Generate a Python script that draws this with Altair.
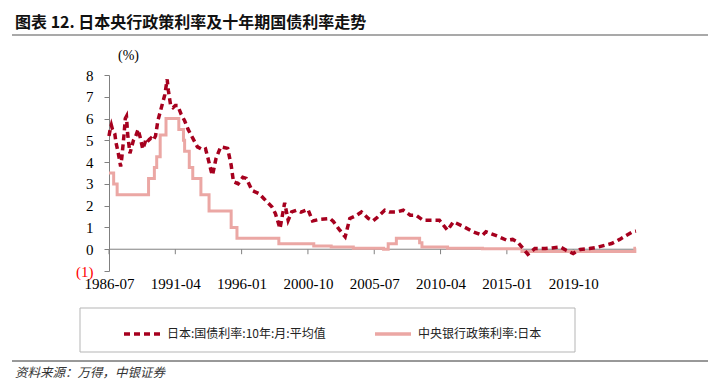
import altair as alt
import pandas as pd

START_YEAR, START_MONTH = 1986, 7

S_JGB = "日本:国债利率:10年:月:平均值"
S_POL = "中央银行政策利率:日本"

jgb_dates = [
    "1986-07", "1986-08", "1986-09", "1986-10", "1986-12", "1987-01", "1987-03", "1987-05",
    "1987-06", "1987-08", "1987-09", "1987-10", "1987-11", "1988-01", "1988-02", "1988-04",
    "1988-06", "1988-08", "1988-10", "1988-12", "1989-02", "1989-03", "1989-05", "1989-07",
    "1989-09", "1989-11", "1990-01", "1990-03", "1990-05", "1990-07", "1990-09", "1990-10",
    "1990-12", "1991-02", "1991-04", "1991-06", "1991-09", "1991-12", "1992-03", "1992-07",
    "1992-11", "1993-04", "1993-06", "1993-08", "1993-11", "1993-12", "1994-03", "1994-07",
    "1995-01", "1995-04", "1995-06", "1995-10", "1996-02", "1996-05", "1996-10", "1997-04",
    "1997-08", "1998-03", "1998-06", "1998-10", "1999-02", "1999-05", "1999-08", "1999-12",
    "2000-04", "2000-10", "2001-02", "2001-08", "2002-05", "2002-08", "2003-01", "2003-06",
    "2003-10", "2004-04", "2004-08", "2005-02", "2005-06", "2005-10", "2006-04", "2006-08",
    "2007-02", "2007-08", "2008-02", "2008-07", "2009-01", "2009-08", "2010-03", "2010-10",
    "2011-03", "2011-11", "2012-08", "2013-04", "2013-07", "2014-05", "2015-01", "2015-06",
    "2015-10", "2016-03", "2016-07", "2017-01", "2017-10", "2018-04", "2018-11", "2019-04",
    "2019-10", "2020-04", "2020-12", "2021-06", "2022-01", "2022-07", "2023-02", "2023-08",
    "2024-01", "2024-04",
]
jgb_values = [
    5.2, 5.5, 5.7, 5.5, 5.3, 4.9, 4.4, 3.8,
    4.2, 5.3, 6.0, 6.1, 5.3, 4.4, 4.6, 5.0,
    5.2, 5.5, 5.1, 4.6, 4.9, 5.1, 5.0, 5.1,
    5.0, 5.2, 5.9, 6.3, 6.7, 7.1, 7.8, 7.3,
    6.6, 6.5, 6.6, 6.6, 6.2, 5.9, 5.5, 5.1,
    4.7, 4.55, 4.6, 4.2, 3.55, 3.4, 4.17, 4.7,
    4.63, 3.86, 3.1, 3.0, 3.3, 3.25, 2.7, 2.55,
    2.33, 1.95, 1.64, 0.95, 2.13, 1.33, 1.71, 1.79,
    1.7, 1.83, 1.3, 1.37, 1.41, 1.26, 0.9, 0.57,
    1.41, 1.56, 1.71, 1.41, 1.3, 1.48, 1.79, 1.71,
    1.71, 1.79, 1.56, 1.56, 1.33, 1.33, 1.33, 0.87,
    1.26, 1.06, 0.8, 0.64, 0.8, 0.6, 0.41, 0.45,
    0.34, 0.03, -0.23, 0.03, 0.03, 0.06, 0.1, -0.05,
    -0.2, -0.01, 0.03, 0.08, 0.18, 0.26, 0.45, 0.64,
    0.8, 0.83,
]

policy_dates = [
    "1986-07", "1986-11", "1987-02", "1989-05", "1989-10", "1989-12", "1990-03", "1990-08",
    "1991-07", "1991-11", "1991-12", "1992-04", "1992-07", "1993-02", "1993-09", "1995-04",
    "1995-09", "1998-09", "2001-03", "2002-06", "2004-01", "2006-03", "2006-07", "2007-02",
    "2008-10", "2008-12", "2010-10", "2013-04", "2016-02", "2024-03", "2024-04",
]
policy_values = [
    3.5, 3.0, 2.5, 3.25, 3.75, 4.25, 5.25, 6.0,
    5.5, 5.0, 4.5, 3.75, 3.25, 2.5, 1.75, 1.0,
    0.5, 0.25, 0.15, 0.1, 0.05, 0.0, 0.25, 0.5,
    0.3, 0.1, 0.05, 0.02, -0.1, 0.05, 0.05,
]

tick_labels = ["1986-07", "1991-04", "1996-01", "2000-10", "2005-07", "2010-04", "2015-01", "2019-10"]
end_month = "2024-04"
y_ticks = [-1, 0, 1, 2, 3, 4, 5, 6, 7, 8]

title_text = "图表 12.  日本央行政策利率及十年期国债利率走势"
source_text = "资料来源：万得，中银证券"
unit_text = "(%)"

DARK_RED = "#A6001E"
PINK = "#EBA7A4"
SERIF = "Liberation Serif"
CJK = "Noto Sans CJK SC"


def midx(s):
    y, m = map(int, s.split("-"))
    return (y - START_YEAR) * 12 + (m - START_MONTH)


df_jgb = pd.DataFrame({"m": [midx(d) for d in jgb_dates], "v": jgb_values, "series": S_JGB})
df_pol = pd.DataFrame({"m": [midx(d) for d in policy_dates], "v": policy_values, "series": S_POL})
df_ticks = pd.DataFrame({"m": [midx(t) for t in tick_labels]})
one = pd.DataFrame({"a": [0]})

W, H = 527, 196
x_max = midx(end_month)

label_expr = (
    f"toString({START_YEAR} + floor((datum.value + {START_MONTH - 1}) / 12)) + '-' + "
    f"(((datum.value + {START_MONTH - 1}) % 12) < 9 ? '0' : '') + "
    f"toString(((datum.value + {START_MONTH - 1}) % 12) + 1)"
)

x_scale = alt.Scale(domain=[0, x_max], nice=False, zero=False)
y_scale = alt.Scale(domain=[min(y_ticks), max(y_ticks)], nice=False, zero=False)

x_axis = alt.Axis(
    values=[midx(t) for t in tick_labels], labelExpr=label_expr, title=None,
    domain=False, ticks=False, grid=False, labelFont=SERIF, labelFontSize=15,
    labelColor="#000000", labelPadding=5, labelFlush=False, labelOverlap=False,
)
y_axis = alt.Axis(
    values=y_ticks, title=unit_text, titleAngle=0, titleX=19, titleY=-20,
    titleAlign="center", titleBaseline="middle", titleFont=SERIF, titleFontSize=14,
    titleFontWeight="normal", titleColor="#000000",
    labelExpr="datum.value < 0 ? '(' + abs(datum.value) + ')' : toString(datum.value)",
    labelColor={"condition": {"test": "datum.value < 0", "value": "#FF0000"}, "value": "#000000"},
    labelFont=SERIF, labelFontSize=15, labelPadding=11, tickSize=5, tickColor="#808080",
    domainColor="#808080", grid=False, labelOverlap=False, labelFlush=False,
)

legend_cfg = dict(
    orient="none", legendX=13, legendY=239, direction="horizontal", columns=2,
    columnPadding=42, title=None, symbolType="stroke", symbolSize=1296,
    symbolStrokeWidth=3.5, labelFont=CJK, labelFontSize=12, labelColor="#222222",
    labelOffset=5, padding=0,
)
color = alt.Color(
    "series:N",
    scale=alt.Scale(domain=[S_JGB, S_POL], range=[DARK_RED, PINK]),
    legend=alt.Legend(**legend_cfg),
)
dash = alt.StrokeDash(
    "series:N",
    scale=alt.Scale(domain=[S_JGB, S_POL], range=[[6, 4], [1, 0]]),
    legend=alt.Legend(**legend_cfg),
)

zero_line = alt.Chart(one).mark_rule(color="#808080", strokeWidth=1).encode(
    y=alt.Y(datum=0, scale=y_scale, axis=y_axis)
)
x_ticks = alt.Chart(df_ticks).mark_rule(color="#808080", strokeWidth=1).encode(
    x=alt.X("m:Q", scale=x_scale, axis=x_axis),
    y=alt.Y(datum=0, scale=y_scale, axis=y_axis),
    y2=alt.Y2(datum=-0.23),
)
pol_line = alt.Chart(df_pol).mark_line(interpolate="step-after", strokeWidth=3).encode(
    x=alt.X("m:Q", scale=x_scale, axis=x_axis),
    y=alt.Y("v:Q", scale=y_scale, axis=y_axis),
    color=color,
    strokeDash=dash,
)
jgb_line = alt.Chart(df_jgb).mark_line(strokeWidth=3.5).encode(
    x=alt.X("m:Q", scale=x_scale, axis=x_axis),
    y=alt.Y("v:Q", scale=y_scale, axis=y_axis),
    color=color,
    strokeDash=dash,
)

legend_box = alt.Chart(one).mark_rect(fill="#FFFFFF", stroke="#B5B5B5", strokeWidth=1).encode(
    x=alt.value(-29), x2=alt.value(466), y=alt.value(233), y2=alt.value(277)
)
title = alt.Chart(one).mark_text(
    align="left", baseline="middle", font=CJK, fontSize=16, fontWeight="bold", color="#111111"
).encode(x=alt.value(-94), y=alt.value(-52), text=alt.value(title_text))
title_rule = alt.Chart(one).mark_rule(color="#8C8C8C", strokeWidth=1.5).encode(
    x=alt.value(-97), x2=alt.value(599), y=alt.value(-40)
)
foot_rule = alt.Chart(one).mark_rule(color="#333333", strokeWidth=1).encode(
    x=alt.value(-97), x2=alt.value(599), y=alt.value(286)
)
source = alt.Chart(one).mark_text(
    align="left", baseline="middle", font=CJK, fontSize=12.5, fontStyle="italic", color="#333333"
).encode(x=alt.value(-94), y=alt.value(298), text=alt.value(source_text))

chart = alt.layer(
    legend_box, zero_line, x_ticks, pol_line, jgb_line, title, title_rule, foot_rule, source
).properties(
    width=W, height=H,
    autosize=alt.AutoSizeParams(type="none"),
    padding={"left": 101, "top": 67, "right": 76, "bottom": 112},
).configure_view(stroke=None).configure_axisY(labelOverlap=False, tickCount=10)

chart.save("out.html", embed_options={"renderer": "svg", "actions": False})
